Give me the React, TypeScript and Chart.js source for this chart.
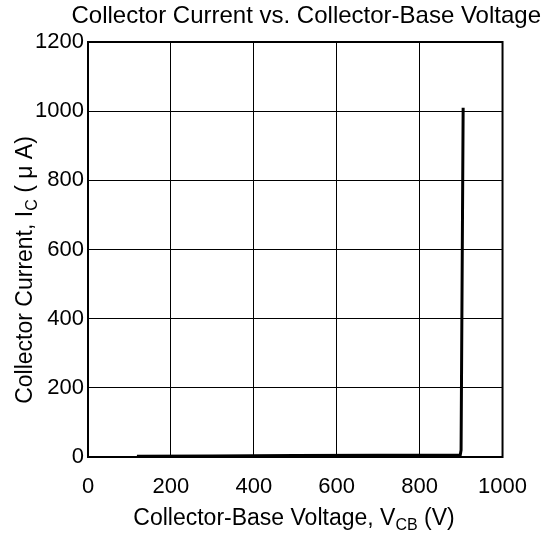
import React, { useEffect, useRef } from "react";
import { Chart, registerables } from "chart.js";

Chart.register(...registerables);

// Data
const voltageV = [118, 300, 500, 700, 898, 900, 905];
const currentUA = [2, 3, 4, 5, 6, 20, 1010];
const xMin = 0;
const xMax = 1000;
const xStep = 200;
const yMin = 0;
const yMax = 1200;
const yStep = 200;
const chartTitle = "Collector Current vs. Collector-Base Voltage";
const xTitleParts = [
  { text: "Collector-Base Voltage, V", sub: false },
  { text: "CB", sub: true },
  { text: " (V)", sub: false },
];
const yTitleParts = [
  { text: "Collector Current, I", sub: false },
  { text: "C", sub: true },
  { text: " ( \u03bc A)", sub: false },
];

const FONT = "'Liberation Sans', Arial, sans-serif";

type Part = { text: string; sub: boolean };

function drawRich(ctx: CanvasRenderingContext2D, parts: Part[], cx: number, cy: number, size: number) {
  const subSize = Math.round(size * 0.68);
  let total = 0;
  const widths = parts.map((p) => {
    ctx.font = `${p.sub ? subSize : size}px ${FONT}`;
    const w = ctx.measureText(p.text).width;
    total += w;
    return w;
  });
  let x = cx - total / 2;
  ctx.textAlign = "left";
  ctx.textBaseline = "middle";
  parts.forEach((p, i) => {
    ctx.font = `${p.sub ? subSize : size}px ${FONT}`;
    ctx.fillText(p.text, x, p.sub ? cy + size * 0.28 : cy);
    x += widths[i];
  });
}

const textPlugin = {
  id: "customText",
  afterDraw(chart: any) {
    const ctx: CanvasRenderingContext2D = chart.ctx;
    ctx.save();
    const a = chart.chartArea;
    // frame
    ctx.strokeStyle = "#000";
    ctx.lineWidth = 2;
    ctx.strokeRect(a.left, a.top, a.right - a.left, a.bottom - a.top);
    ctx.fillStyle = "#000";
    // chart title (right-aligned near the page edge)
    ctx.font = `24px ${FONT}`;
    ctx.textAlign = "right";
    ctx.textBaseline = "middle";
    ctx.fillText(chartTitle, 541, 16);
    // x title
    drawRich(ctx, xTitleParts, 294, 519, 23);
    // y title
    ctx.save();
    ctx.translate(26, 270);
    ctx.rotate(-Math.PI / 2);
    drawRich(ctx, yTitleParts, 0, 0, 23);
    ctx.restore();
    ctx.restore();
  },
};

export default function App() {
  const ref = useRef<HTMLCanvasElement | null>(null);
  useEffect(() => {
    const canvas = ref.current;
    if (!canvas) return;
    const chart = new Chart(canvas, {
      type: "line",
      data: {
        datasets: [
          {
            data: voltageV.map((v, i) => ({ x: v, y: currentUA[i] })),
            borderColor: "#000",
            borderWidth: 3,
            pointRadius: 0,
            tension: 0,
            fill: false,
          },
        ],
      },
      options: {
        responsive: false,
        animation: false,
        layout: { padding: { top: 42, right: 40, left: 0, bottom: 0 } },
        plugins: {
          legend: { display: false },
          tooltip: { enabled: false },
          title: { display: false },
        },
        scales: {
          x: {
            type: "linear",
            min: xMin,
            max: xMax,
            ticks: {
              stepSize: xStep,
              color: "#000",
              font: { family: FONT, size: 22 },
              padding: 17,
              maxRotation: 0,
              callback: (v: any) => String(v),
            },
            grid: { color: "#000", lineWidth: 1, drawTicks: false },
            border: { display: true, color: "#000", width: 2 },
            afterFit: (s: any) => {
              s.height = 84;
            },
          },
          y: {
            type: "linear",
            min: yMin,
            max: yMax,
            ticks: {
              stepSize: yStep,
              color: "#000",
              font: { family: FONT, size: 22 },
              padding: 4,
              callback: (v: any) => String(v),
            },
            grid: { color: "#000", lineWidth: 1, drawTicks: false },
            border: { display: true, color: "#000", width: 2 },
            afterFit: (s: any) => {
              s.width = 88;
            },
          },
        },
      },
      plugins: [textPlugin],
    });
    return () => chart.destroy();
  }, []);
  return (
    <div style={{ position: "fixed", left: 0, top: 0, width: 544, height: 541, background: "#fff" }}>
      <canvas ref={ref} width={544} height={541} style={{ width: 544, height: 541 }} />
    </div>
  );
}
